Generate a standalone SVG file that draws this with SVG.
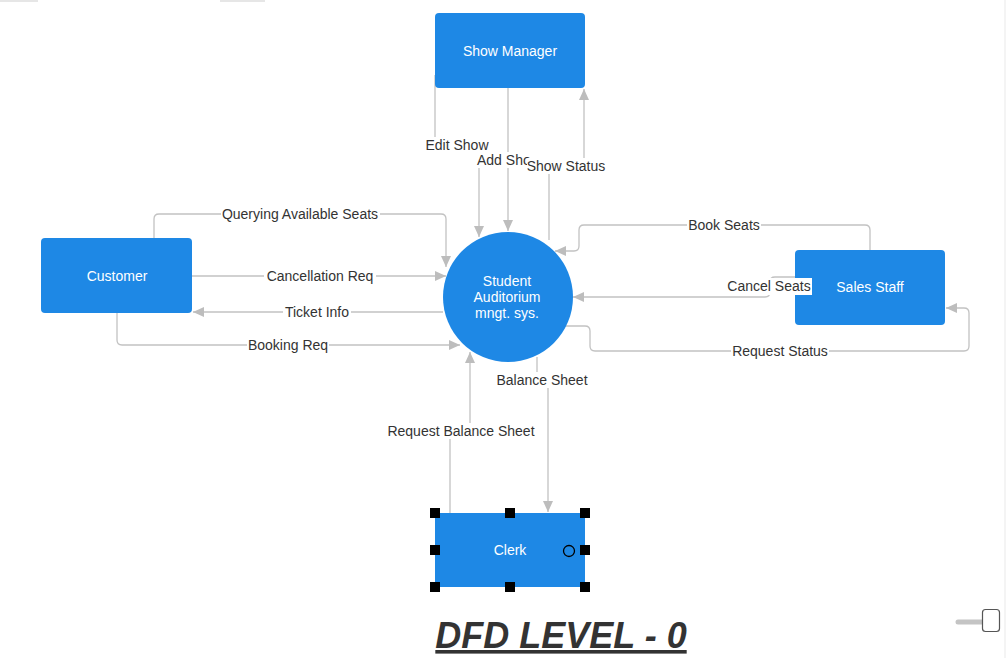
<svg xmlns="http://www.w3.org/2000/svg" width="1007" height="658" viewBox="0 0 1007 658">
  <style>
    .node { fill: #1e88e5; }
    .ntext { font-family: "Liberation Sans", Arial, sans-serif; font-size: 14px; fill: #ffffff; text-anchor: middle; dominant-baseline: central; }
    .flow { fill: none; stroke: #c2c2c2; stroke-width: 1.3; stroke-linejoin: round; marker-end: url(#arr); }
    .lbl { font-family: "Liberation Sans", Arial, sans-serif; font-size: 14px; fill: #333333; text-anchor: middle; dominant-baseline: central; }
    .lbl-start { text-anchor: start; }
    .lblbg { fill: #ffffff; }
    .handle { fill: #000000; }
  </style>
  <defs>
    <marker id="arr" markerWidth="12" markerHeight="10" refX="11" refY="5" orient="auto" markerUnits="userSpaceOnUse">
      <path d="M0,0 L11,5 L0,10 Z" fill="#bdbdbd"/>
    </marker>
  </defs>

  <rect width="1007" height="658" fill="#ffffff"/>
  <!-- page frame hints -->
  <line x1="0" y1="1" x2="38" y2="1" stroke="#e6e6e6" stroke-width="2"/>
  <line x1="220" y1="1" x2="265" y2="1" stroke="#e6e6e6" stroke-width="2"/>
  <line x1="1005" y1="0" x2="1005" y2="658" stroke="#f0f0f0" stroke-width="1.5"/>

  <g id="connectors">
    <!-- Show Manager flows -->
    <path class="flow" d="M435,75 L435,140 Q435,145 440,145 L474,145 Q479,145 479,150 L479,237"/>
    <path class="flow" d="M508,88 L508,231"/>
    <path class="flow" d="M549,240 L549,171 Q549,166 554,166 L579,166 Q584,166 584,161 L584,89"/>
    <!-- Customer flows -->
    <path class="flow" d="M154,238 L154,219 Q154,214 159,214 L441,214 Q446,214 446,219 L446,267"/>
    <path class="flow" d="M192,276 L446,276"/>
    <path class="flow" d="M443,312 L193,312"/>
    <path class="flow" d="M117,313 L117,340 Q117,345 122,345 L460,345"/>
    <!-- Sales Staff flows -->
    <path class="flow" d="M870,250 L870,230 Q870,225 865,225 L584,225 Q579,225 579,230 L579,246 Q579,251 574,251 L555,251"/>
    <path class="flow" d="M795,277 L775,277 Q770,277 770,282 L770,292 Q770,297 765,297 L573,297"/>
    <path class="flow" d="M565,326 L585,326 Q590,326 590,331 L590,346 Q590,351 595,351 L964,351 Q969,351 969,346 L969,313 Q969,308 964,308 L946,308"/>
    <!-- Clerk flows -->
    <path class="flow" d="M450,513 L450,436 Q450,431 455,431 L465,431 Q470,431 470,426 L470,352"/>
    <path class="flow" d="M537,357 L537,375 Q537,380 542,380 L543,380 Q548,380 548,385 L548,512"/>

    <!-- flow labels -->
    <g>
      <rect class="lblbg" x="424" y="137" width="66" height="16"/>
      <text class="lbl" x="457" y="145">Edit Show</text>
      <rect class="lblbg" x="475" y="152" width="52" height="16"/>
      <text class="lbl lbl-start" x="477" y="160">Add Sho</text>
      <rect class="lblbg" x="527" y="158" width="80" height="16"/>
      <text class="lbl" x="566" y="166">Show Status</text>
      <rect class="lblbg" x="221" y="206" width="159" height="16"/>
      <text class="lbl" x="300" y="214">Querying Available Seats</text>
      <rect class="lblbg" x="264" y="268" width="112" height="16"/>
      <text class="lbl" x="320" y="276">Cancellation Req</text>
      <rect class="lblbg" x="283" y="304" width="68" height="16"/>
      <text class="lbl" x="317" y="312">Ticket Info</text>
      <rect class="lblbg" x="247" y="337" width="82" height="16"/>
      <text class="lbl" x="288" y="345">Booking Req</text>
      <rect class="lblbg" x="687" y="217" width="74" height="16"/>
      <text class="lbl" x="724" y="225">Book Seats</text>
      <rect class="lblbg" x="731" y="343" width="98" height="16"/>
      <text class="lbl" x="780" y="351">Request Status</text>
      <rect class="lblbg" x="386" y="423" width="150" height="16"/>
      <text class="lbl" x="461" y="431">Request Balance Sheet</text>
      <rect class="lblbg" x="496" y="372" width="93" height="16"/>
      <text class="lbl" x="542" y="380">Balance Sheet</text>
    </g>
  </g>

  <g id="show-manager">
    <rect class="node" x="435" y="13" width="150" height="75" rx="4"/>
    <text class="ntext" x="510" y="51">Show Manager</text>
  </g>

  <g id="customer">
    <rect class="node" x="41" y="238" width="151" height="75" rx="4"/>
    <text class="ntext" x="117" y="276">Customer</text>
  </g>

  <g id="sales-staff">
    <rect class="node" x="795" y="250" width="150" height="75" rx="4"/>
    <text class="ntext" x="870" y="287">Sales Staff</text>
  </g>

  <g id="system">
    <circle class="node" cx="508" cy="297" r="65"/>
    <text class="ntext" x="507" y="281">Student</text>
    <text class="ntext" x="507" y="297">Auditorium</text>
    <text class="ntext" x="507" y="313">mngt. sys.</text>
  </g>

  <!-- Cancel Seats label sits over the Sales Staff box edge -->
  <g id="cancel-seats-label">
    <rect class="lblbg" x="726" y="278" width="86" height="17"/>
    <text class="lbl" x="769" y="286">Cancel Seats</text>
  </g>

  <g id="clerk">
    <rect class="node" x="435" y="513" width="150" height="74"/>
    <text class="ntext" x="510" y="550">Clerk</text>
    <!-- selection handles -->
    <rect class="handle" x="430" y="508" width="10" height="10"/>
    <rect class="handle" x="505" y="508" width="10" height="10"/>
    <rect class="handle" x="580" y="508" width="10" height="10"/>
    <rect class="handle" x="430" y="545" width="10" height="10"/>
    <rect class="handle" x="580" y="545" width="10" height="10"/>
    <rect class="handle" x="430" y="582" width="10" height="10"/>
    <rect class="handle" x="505" y="582" width="10" height="10"/>
    <rect class="handle" x="580" y="582" width="10" height="10"/>
    <circle cx="569" cy="551" r="5.5" fill="none" stroke="#000000" stroke-width="1.3"/>
  </g>

  <g id="title">
    <text x="561" y="648" font-family="'Liberation Sans', Arial, sans-serif" font-size="36" font-weight="bold" font-style="italic" fill="#333333" text-anchor="middle" text-decoration="underline">DFD LEVEL - 0</text>
  </g>

  <g id="zoom-slider">
    <line x1="958" y1="622" x2="985" y2="622" stroke="#c4c4c4" stroke-width="5" stroke-linecap="round"/>
    <rect x="982.5" y="609.5" width="17" height="22" rx="3" fill="#ffffff" stroke="#555555" stroke-width="1.2"/>
  </g>
</svg>
